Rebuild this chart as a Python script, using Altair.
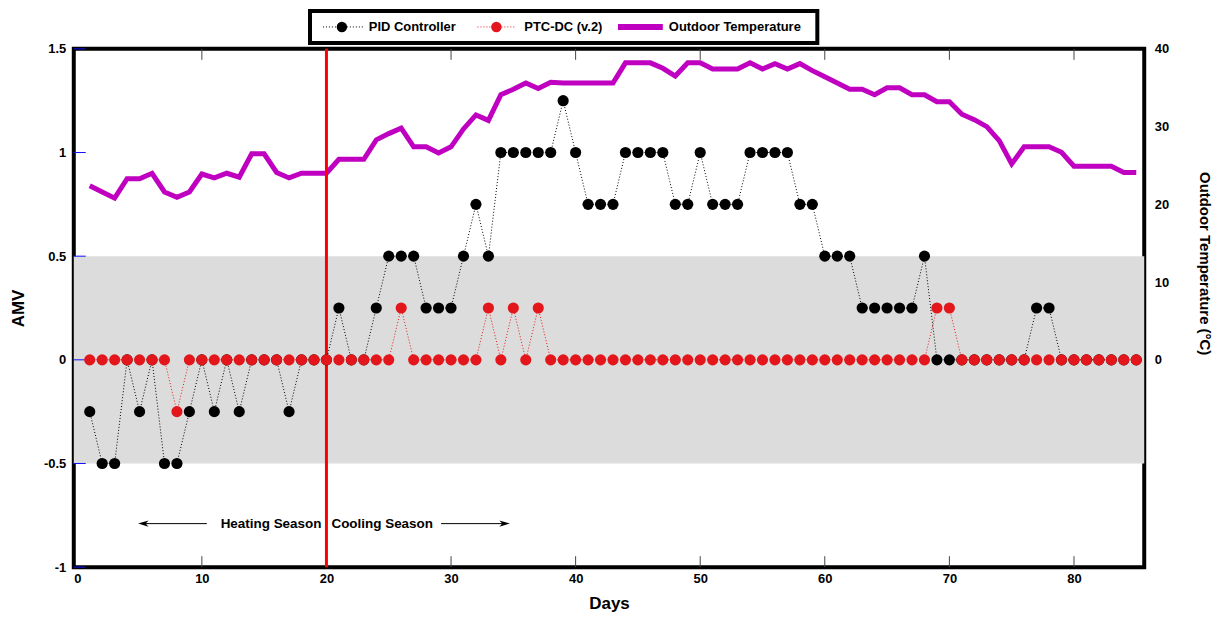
import altair as alt
import pandas as pd

# ---------------- data ----------------
days = list(range(1, 86))

pid = [-0.25, -0.5, -0.5, 0, -0.25, 0, -0.5, -0.5, -0.25, 0,
       -0.25, 0, -0.25, 0, 0, 0, -0.25, 0, 0, 0,
       0.25, 0, 0, 0.25, 0.5, 0.5, 0.5, 0.25, 0.25, 0.25,
       0.5, 0.75, 0.5, 1, 1, 1, 1, 1, 1.25, 1,
       0.75, 0.75, 0.75, 1, 1, 1, 1, 0.75, 0.75, 1,
       0.75, 0.75, 0.75, 1, 1, 1, 1, 0.75, 0.75, 0.5,
       0.5, 0.5, 0.25, 0.25, 0.25, 0.25, 0.25, 0.5, 0, 0,
       0, 0, 0, 0, 0, 0, 0.25, 0.25, 0, 0,
       0, 0, 0, 0, 0]

ptc = [0, 0, 0, 0, 0, 0, 0, -0.25, 0, 0,
       0, 0, 0, 0, 0, 0, 0, 0, 0, 0,
       0, 0, 0, 0, 0, 0.25, 0, 0, 0, 0,
       0, 0, 0.25, 0, 0.25, 0, 0.25, 0, 0, 0,
       0, 0, 0, 0, 0, 0, 0, 0, 0, 0,
       0, 0, 0, 0, 0, 0, 0, 0, 0, 0,
       0, 0, 0, 0, 0, 0, 0, 0, 0.25, 0.25,
       0, 0, 0, 0, 0, 0, 0, 0, 0, 0,
       0, 0, 0, 0, 0]

temp = [22.4, 21.6, 20.8, 23.3, 23.3, 24.0, 21.6, 20.9, 21.6, 23.9,
        23.4, 24.0, 23.5, 26.5, 26.5, 24.1, 23.4, 24.0, 24.0, 24.0,
        25.8, 25.8, 25.8, 28.3, 29.1, 29.8, 27.4, 27.4, 26.6, 27.4,
        29.7, 31.5, 30.8, 34.1, 34.8, 35.6, 34.9, 35.7, 35.6, 35.6,
        35.6, 35.6, 35.6, 38.2, 38.2, 38.2, 37.5, 36.5, 38.2, 38.2,
        37.4, 37.4, 37.4, 38.2, 37.4, 38.1, 37.4, 38.1, 37.2, 36.4,
        35.6, 34.8, 34.8, 34.1, 35.0, 35.0, 34.1, 34.1, 33.2, 33.2,
        31.6, 30.9, 30.0, 28.2, 25.2, 27.4, 27.4, 27.4, 26.7, 24.9,
        24.9, 24.9, 24.9, 24.1, 24.1]

x_ticks = [0, 10, 20, 30, 40, 50, 60, 70, 80]
inner_x_ticks = [10, 20, 30, 40, 50, 60, 70, 80]
amv_ticks = [-1, -0.5, 0, 0.5, 1, 1.5]
temp_ticks = [0, 10, 20, 30, 40]
comfort_band = {"lo": [-0.5], "hi": [0.5]}
season_change_day = [20]
heat_arrow = {"x1": [5.3], "x2": [10.4], "y": [-0.79]}
cool_arrow = {"x1": [29.2], "x2": [34.3], "y": [-0.79]}
season_labels = ["Heating Season", "Cooling Season"]
legend_labels = ["PID Controller", "PTC-DC (v.2)", "Outdoor Temperature"]

# ---------------- styling ----------------
W, H = 1074, 520
FONT = "Liberation Sans"
BLACK = "#000000"
RED = "#e3161b"
MAGENTA = "#c000c0"

df = pd.DataFrame({"day": days, "pid": pid, "ptc": ptc, "temp": temp})

x_scale = alt.Scale(domain=[-0.28, 85.64], nice=False, zero=False)
y_scale = alt.Scale(domain=[-1, 1.5], nice=False, zero=False)
t_scale = alt.Scale(domain=[-80 / 3, 40], nice=False, zero=False)

x_axis = alt.Axis(values=x_ticks, title="Days", ticks=False, domain=False, grid=False,
                  labelFont=FONT, labelFontSize=13, labelFontWeight="bold", labelColor=BLACK,
                  labelPadding=5, titleFont=FONT, titleFontSize=17, titleFontWeight="bold",
                  titleColor=BLACK, titlePadding=10)
y_axis = alt.Axis(values=amv_ticks, title="AMV", ticks=False, domain=False, grid=False,
                  labelExpr="'' + datum.value",
                  labelFont=FONT, labelFontSize=13, labelFontWeight="bold", labelColor=BLACK,
                  labelPadding=8, titleFont=FONT, titleFontSize=17, titleFontWeight="bold",
                  titleColor=BLACK, titlePadding=16)
t_axis = alt.Axis(orient="right", values=temp_ticks, title="Outdoor Temperature (°C)",
                  ticks=False, domain=False, grid=False,
                  labelFont=FONT, labelFontSize=13, labelFontWeight="bold", labelColor=BLACK,
                  labelPadding=10, titleFont=FONT, titleFontSize=15, titleFontWeight="bold",
                  titleColor=BLACK, titleAngle=90, titleX=60, titleY=215,
                  titleAlign="center", titleBaseline="middle")

X = lambda f: alt.X(f, scale=x_scale, axis=x_axis)
Y = lambda f: alt.Y(f, scale=y_scale, axis=y_axis)

# comfort band
band = alt.Chart(pd.DataFrame(comfort_band)).mark_rect(color="#dcdcdc").encode(
    x=alt.value(0), x2=alt.value(W), y=Y("lo:Q"), y2="hi:Q")

# season divider
vline = alt.Chart(pd.DataFrame({"day": season_change_day})).mark_rule(
    color="#ff0000", strokeWidth=3).encode(x=X("day:Q"), y=alt.value(0), y2=alt.value(H))

# inner ticks
tick_df = pd.DataFrame({"day": inner_x_ticks})
top_ticks = alt.Chart(tick_df).mark_rule(color="#444444", strokeWidth=1).encode(
    x=X("day:Q"), y=alt.value(0), y2=alt.value(11))
bot_ticks = alt.Chart(tick_df).mark_rule(color="#444444", strokeWidth=1).encode(
    x=X("day:Q"), y=alt.value(H - 11), y2=alt.value(H))
left_ticks = alt.Chart(pd.DataFrame({"v": amv_ticks})).mark_rule(
    color="#1010ff", strokeWidth=1).encode(y=Y("v:Q"), x=alt.value(0), x2=alt.value(12))

# series
pid_line = alt.Chart(df).mark_line(color=BLACK, strokeWidth=1, strokeDash=[1, 2]).encode(
    x=X("day:Q"), y=Y("pid:Q"))
pid_pts = alt.Chart(df).mark_circle(color=BLACK, size=125, opacity=1).encode(
    x=X("day:Q"), y=Y("pid:Q"))
ptc_line = alt.Chart(df).mark_line(color=RED, strokeWidth=1, strokeDash=[1, 2]).encode(
    x=X("day:Q"), y=Y("ptc:Q"))
ptc_pts = alt.Chart(df).mark_circle(color=RED, size=125, opacity=1).encode(
    x=X("day:Q"), y=Y("ptc:Q"))

# season annotations
heat_df = pd.DataFrame(heat_arrow)
cool_df = pd.DataFrame(cool_arrow)
heat_rule = alt.Chart(heat_df).mark_rule(color=BLACK, strokeWidth=1).encode(
    x=X("x1:Q"), x2="x2:Q", y=Y("y:Q"))
cool_rule = alt.Chart(cool_df).mark_rule(color=BLACK, strokeWidth=1).encode(
    x=X("x1:Q"), x2="x2:Q", y=Y("y:Q"))
heat_head = alt.Chart(heat_df).mark_point(
    shape="M-1,0L1,-0.6L0.45,0L1,0.6Z", filled=True, color=BLACK, size=110, opacity=1).encode(
    x=X("x1:Q"), y=Y("y:Q"))
cool_head = alt.Chart(cool_df).mark_point(
    shape="M1,0L-1,-0.6L-0.45,0L-1,0.6Z", filled=True, color=BLACK, size=110, opacity=1).encode(
    x=X("x2:Q"), y=Y("y:Q"))
lab_df = pd.DataFrame({"day": season_change_day * 2, "y": [-0.79, -0.79], "label": season_labels})
heat_text = alt.Chart(lab_df.iloc[[0]]).mark_text(
    align="right", baseline="middle", dx=-5, font=FONT, fontSize=13.5, fontWeight="bold",
    color=BLACK).encode(x=X("day:Q"), y=Y("y:Q"), text="label:N")
cool_text = alt.Chart(lab_df.iloc[[1]]).mark_text(
    align="left", baseline="middle", dx=5, font=FONT, fontSize=13.5, fontWeight="bold",
    color=BLACK).encode(x=X("day:Q"), y=Y("y:Q"), text="label:N")

# legend (custom, at the top)
one = pd.DataFrame({"k": [0]})
LY = -22
leg_box = alt.Chart(one).mark_rect(fill="white", stroke=BLACK, strokeWidth=4).encode(
    x=alt.value(237), x2=alt.value(746), y=alt.value(-38), y2=alt.value(-6))
leg_pid_line = alt.Chart(one).mark_rule(color=BLACK, strokeWidth=1, strokeDash=[1, 2]).encode(
    x=alt.value(250), x2=alt.value(290), y=alt.value(LY))
leg_pid_pt = alt.Chart(one).mark_circle(color=BLACK, size=110, opacity=1).encode(
    x=alt.value(269), y=alt.value(LY))
leg_ptc_line = alt.Chart(one).mark_rule(color=RED, strokeWidth=1, strokeDash=[1, 2]).encode(
    x=alt.value(405), x2=alt.value(443), y=alt.value(LY))
leg_ptc_pt = alt.Chart(one).mark_circle(color=RED, size=110, opacity=1).encode(
    x=alt.value(424), y=alt.value(LY))
leg_temp_line = alt.Chart(one).mark_rule(color=MAGENTA, strokeWidth=6).encode(
    x=alt.value(546), x2=alt.value(591), y=alt.value(LY))
leg_texts = []
for lbl, xpos in zip(legend_labels, [296, 452, 597]):
    leg_texts.append(
        alt.Chart(pd.DataFrame({"label": [lbl]})).mark_text(
            align="left", baseline="middle", font=FONT, fontSize=13, fontWeight="bold",
            color=BLACK).encode(x=alt.value(xpos), y=alt.value(LY), text="label:N"))

amv_group = alt.layer(
    band, top_ticks, bot_ticks, left_ticks, vline,
    pid_line, pid_pts, ptc_line, ptc_pts,
    heat_rule, cool_rule, heat_head, cool_head, heat_text, cool_text,
    leg_box, leg_pid_line, leg_pid_pt, leg_ptc_line, leg_ptc_pt, leg_temp_line, *leg_texts,
)

temp_line = alt.Chart(df).mark_line(color=MAGENTA, strokeWidth=5).encode(
    x=X("day:Q"), y=alt.Y("temp:Q", scale=t_scale, axis=t_axis))

chart = alt.layer(temp_line, amv_group).resolve_scale(y="independent").properties(
    width=W, height=H,
    padding={"left": 66, "top": 40, "right": 72, "bottom": 45},
    autosize=alt.AutoSizeParams(type="none"),
    background="white",
).configure_view(stroke=BLACK, strokeWidth=4)

chart.save("out.html", embed_options={"renderer": "svg", "actions": False})
